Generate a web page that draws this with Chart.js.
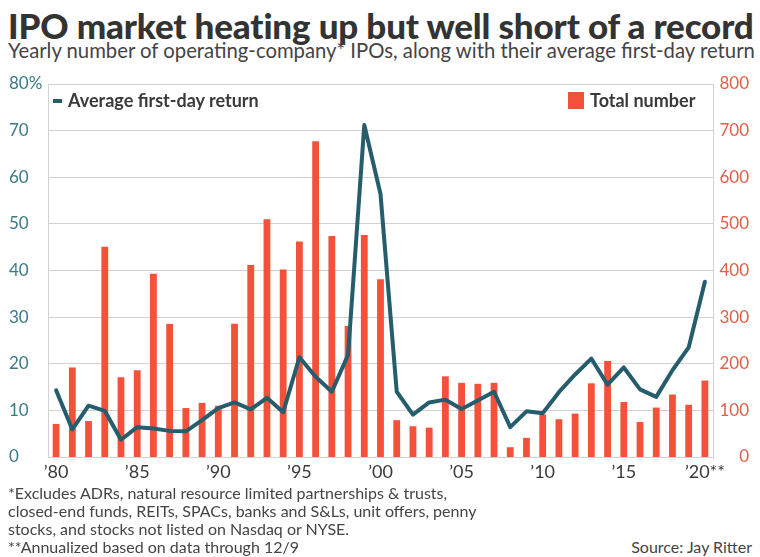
<!DOCTYPE html>
<html><head><meta charset="utf-8">
<script src="https://cdn.jsdelivr.net/npm/chart.js@4"></script>
<style>
html,body{margin:0;padding:0;background:#fff;}
body{width:760px;height:557px;position:relative;overflow:hidden;font-family:Lato,"Open Sans",sans-serif;}
#title{position:absolute;left:8px;top:4px;font-size:35px;font-weight:900;color:#333;white-space:nowrap;letter-spacing:-0.15px;}
#sub{position:absolute;left:8px;top:38px;font-size:20.3px;color:#444;white-space:nowrap;}
#wrap{position:absolute;left:0;top:70px;width:760px;height:415px;}
.leg{position:absolute;font-size:18px;font-weight:700;color:#3a3a3a;white-space:nowrap;}
#legL{left:53px;top:89px;}
#legL span{display:inline-block;width:9px;height:4px;background:#265d6d;vertical-align:middle;margin-right:6px;position:relative;top:-1px;}
#legR{left:568px;top:89px;}
#legR span{display:inline-block;width:16px;height:17px;background:#f4513a;vertical-align:middle;margin-right:6px;position:relative;top:-2px;}
.fn{position:absolute;left:8px;font-size:16px;color:#444;white-space:nowrap;}
#src{position:absolute;right:8px;top:537px;font-size:16px;color:#444;}
</style></head>
<body>
<div id="title">IPO market heating up but well short of a record</div>
<div id="sub">Yearly number of operating-company* IPOs, along with their average first-day return</div>
<div id="wrap"><canvas id="c" width="760" height="415"></canvas></div>
<div class="leg" id="legL"><span></span>Average first-day return</div>
<div class="leg" id="legR"><span></span>Total number</div>
<div class="fn" style="top:483px">*Excludes ADRs, natural resource limited partnerships &amp; trusts,</div>
<div class="fn" style="top:501px">closed-end funds, REITs, SPACs, banks and S&amp;Ls, unit offers, penny</div>
<div class="fn" style="top:519px">stocks, and stocks not listed on Nasdaq or NYSE.</div>
<div class="fn" style="top:537px">**Annualized based on data through 12/9</div>
<div id="src">Source: Jay Ritter</div>
<script>
const years = [1980,1981,1982,1983,1984,1985,1986,1987,1988,1989,1990,1991,1992,1993,1994,1995,1996,1997,1998,1999,2000,2001,2002,2003,2004,2005,2006,2007,2008,2009,2010,2011,2012,2013,2014,2015,2016,2017,2018,2019,2020];
const totalNumber = [71,192,77,451,171,186,393,285,105,116,110,286,412,510,402,462,677,474,281,476,381,79,66,63,173,159,157,159,21,41,91,81,93,158,206,118,75,106,134,112,164];
const avgReturn = [14.3,5.9,11.0,9.9,3.7,6.4,6.1,5.6,5.5,7.9,10.5,11.7,10.2,12.7,9.6,21.4,17.2,14.0,21.9,71.2,56.4,14.0,9.1,11.7,12.3,10.3,12.1,14.0,6.4,9.8,9.4,13.9,17.7,21.1,15.5,19.2,14.5,12.9,18.6,23.5,37.6];
const xTickYears = [1980,1985,1990,1995,2000,2005,2010,2015,2020];
const xTickLabels = ["’80","’85","’90","’95","’00","’05","’10","’15","’20**"];
const leftTicks = [0,10,20,30,40,50,60,70,80];
const leftTickLabels = ["0","10","20","30","40","50","60","70","80%"];
const rightTicks = [0,100,200,300,400,500,600,700,800];

const gridCol = '#d2d2d2';
new Chart(document.getElementById('c'), {
  data: {
    labels: years,
    datasets: [
      {type:'line', label:'Average first-day return', data: avgReturn, yAxisID:'y', order:0,
       borderColor:'#265d6d', borderWidth:4, pointRadius:0, tension:0, borderJoinStyle:'round', borderCapStyle:'round'},
      {type:'bar', label:'Total number', data: totalNumber, yAxisID:'y1', order:1,
       backgroundColor:'#f4513a', barPercentage:0.42, categoryPercentage:1}
    ]
  },
  options: {
    responsive:false, animation:false, maintainAspectRatio:false,
    layout:{padding:{left:9,right:11,top:14,bottom:0}},
    plugins:{legend:{display:false}, tooltip:{enabled:false}},
    scales:{
      x:{
        grid:{display:false, drawTicks:false},
        border:{display:true, color:gridCol},
        ticks:{autoSkip:false, maxRotation:0, padding:4, color:'#3a3a3a', font:{family:'Lato', size:18},
          callback:function(v){ const i = xTickYears.indexOf(years[v]); return i>=0 ? xTickLabels[i] : ''; }},
        afterFit:function(s){ s.height = 28; }
      },
      y:{
        position:'left', min:0, max:80,
        afterBuildTicks:function(s){ s.ticks = leftTicks.map(v=>({value:v})); },
        grid:{color:gridCol, drawTicks:false, lineWidth:1},
        border:{display:true, color:gridCol},
        ticks:{crossAlign:'far', color:'#3b7a84', font:{family:'Lato', size:17},
          callback:function(v){ const i = leftTicks.indexOf(v); return i>=0 ? leftTickLabels[i] : ''; }},
        afterFit:function(s){ s.width = 39; }
      },
      y1:{
        position:'right', min:0, max:800,
        afterBuildTicks:function(s){ s.ticks = rightTicks.map(v=>({value:v})); },
        grid:{display:false, drawTicks:false},
        border:{display:true, color:gridCol},
        ticks:{crossAlign:'far', color:'#e0604a', font:{family:'Lato', size:17}},
        afterFit:function(s){ s.width = 36; }
      }
    }
  }
});
</script>
</body></html>
